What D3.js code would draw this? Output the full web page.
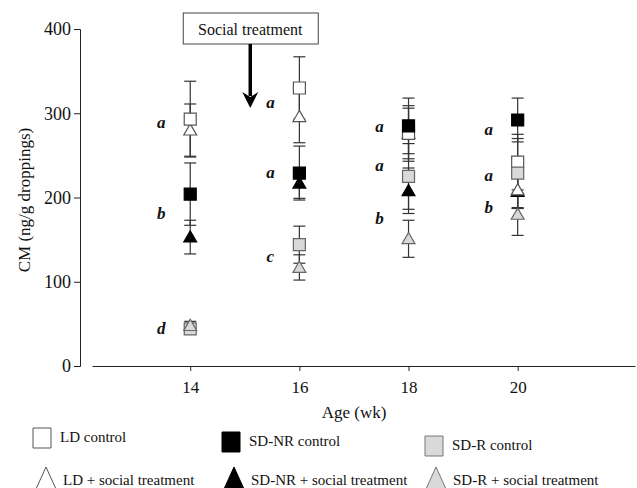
<!DOCTYPE html>
<html>
<head>
<meta charset="utf-8">
<script src="https://cdn.jsdelivr.net/npm/d3@7"></script>
<style>
  body { margin: 0; background: #fff; }
  text { font-family: "Liberation Serif", "Times New Roman", serif; fill: #111; }
</style>
</head>
<body>
<script>
'use strict'

var w = 637;
var h = 488;

// ages (wk)
var weeks = [14, 16, 18, 20];

// group means and SEM, ng/g droppings
var ldControl = [293, 330, 276, 242];
var ldControlErr = [45, 37, 33, 33];
var sdnrControl = [204, 229, 285, 292];
var sdnrControlErr = [37, 32, 33, 26];
var sdrControl = [44, 144, 225, 229];
var sdrControlErr = [5, 22, 39, 41];
var ldSocial = [280, 296, 276, 209];
var ldSocialErr = [31, 31, 30, 22];
var sdnrSocial = [153, 217, 208, 207];
var sdnrSocialErr = [20, 18, 27, 20];
var sdrSocial = [48, 117, 151, 180];
var sdrSocialErr = [5, 15, 22, 25];

// significance letters
var letterWeeks = [14, 14, 14, 16, 16, 16, 18, 18, 18, 20, 20, 20];
var letterValues = [288, 180, 44, 312, 229, 129, 284, 237, 174, 280, 225, 188];
var letterTexts = ['a', 'b', 'd', 'a', 'a', 'c', 'a', 'a', 'b', 'a', 'a', 'b'];

var yTicks = [0, 100, 200, 300, 400];
var treatmentWeek = 15.1;

var legendLabels = ['LD control', 'SD-NR control', 'SD-R control',
  'LD + social treatment', 'SD-NR + social treatment', 'SD-R + social treatment'];

// drawing order matters: later marks sit on top
var series = [
  {vals: sdnrSocial, err: sdnrSocialErr, shape: 'triangle', fill: '#000', stroke: '#000'},
  {vals: ldSocial, err: ldSocialErr, shape: 'triangle', fill: '#fff', stroke: '#555'},
  {vals: ldControl, err: ldControlErr, shape: 'square', fill: '#fff', stroke: '#555'},
  {vals: sdrControl, err: sdrControlErr, shape: 'square', fill: '#d9d9d9', stroke: '#666'},
  {vals: sdnrControl, err: sdnrControlErr, shape: 'square', fill: '#000', stroke: '#000'},
  {vals: sdrSocial, err: sdrSocialErr, shape: 'triangle', fill: '#d9d9d9', stroke: '#666'}
];

var x = d3.scaleLinear().domain([12.2, 22.15]).range([92, 635]);
var y = d3.scaleLinear().domain([0, 400]).range([366, 29]);

var svg = d3.select('body').append('svg')
  .attr('width', w)
  .attr('height', h);

// y axis
var yAxis = svg.append('g')
  .attr('transform', 'translate(80,0)')
  .call(d3.axisLeft(y).tickValues(yTicks).tickSize(6).tickPadding(3));
yAxis.select('.domain').attr('stroke', '#222');
yAxis.selectAll('line').attr('stroke', '#222');
yAxis.selectAll('text')
  .style('font-family', '"Liberation Serif", serif')
  .style('font-size', '18px')
  .attr('fill', '#111');

// x axis
var xAxis = svg.append('g')
  .attr('transform', 'translate(0,366)')
  .call(d3.axisBottom(x).tickValues(weeks).tickSize(5).tickPadding(10).tickSizeOuter(0));
xAxis.select('.domain').attr('stroke', '#222');
xAxis.selectAll('line').attr('stroke', '#222');
xAxis.selectAll('text')
  .style('font-family', '"Liberation Serif", serif')
  .style('font-size', '17px')
  .attr('fill', '#111');

svg.append('text')
  .attr('transform', 'translate(30,200) rotate(-90)')
  .attr('text-anchor', 'middle')
  .style('font-size', '17px')
  .text('CM (ng/g droppings)');

svg.append('text')
  .attr('x', 354)
  .attr('y', 418)
  .attr('text-anchor', 'middle')
  .style('font-size', '17px')
  .text('Age (wk)');

// error bars
var capW = 6;
series.forEach(function(s) {
  var g = svg.append('g').attr('stroke', '#333').attr('stroke-width', 1.2);
  weeks.forEach(function(wk, i) {
    var cx = x(wk);
    var hi = y(s.vals[i] + s.err[i]);
    var lo = y(s.vals[i] - s.err[i]);
    g.append('line').attr('x1', cx).attr('x2', cx).attr('y1', hi).attr('y2', lo);
    g.append('line').attr('x1', cx - capW).attr('x2', cx + capW).attr('y1', hi).attr('y2', hi);
    g.append('line').attr('x1', cx - capW).attr('x2', cx + capW).attr('y1', lo).attr('y2', lo);
  });
});

function shapePath(shape, size) {
  return d3.symbol().type(shape === 'square' ? d3.symbolSquare : d3.symbolTriangle).size(size)();
}

// markers
series.forEach(function(s) {
  svg.append('g').selectAll('path')
    .data(s.vals)
    .enter()
    .append('path')
    .attr('d', shapePath(s.shape, s.shape === 'square' ? 144 : 72))
    .attr('transform', function(d, i) {
      var dy = s.shape === 'triangle' ? 1.2 : 0;
      return 'translate(' + x(weeks[i]) + ',' + (y(d) + dy) + ')';
    })
    .attr('fill', s.fill)
    .attr('stroke', s.stroke)
    .attr('stroke-width', 1.2);
});

// letters
svg.append('g').selectAll('text')
  .data(letterTexts)
  .enter()
  .append('text')
  .attr('x', function(d, i) { return x(letterWeeks[i]) - 29; })
  .attr('y', function(d, i) { return y(letterValues[i]) + 5; })
  .attr('text-anchor', 'middle')
  .style('font-size', '17px')
  .style('font-style', 'italic')
  .style('font-weight', 'bold')
  .text(function(d) { return d; });

// social treatment annotation
var ax = x(treatmentWeek);
svg.append('rect')
  .attr('x', ax - 67).attr('y', 13)
  .attr('width', 135).attr('height', 31)
  .attr('fill', '#fff').attr('stroke', '#444').attr('stroke-width', 1);
svg.append('text')
  .attr('x', ax).attr('y', 35)
  .attr('text-anchor', 'middle')
  .style('font-size', '16px')
  .text('Social treatment');
svg.append('line')
  .attr('x1', ax).attr('x2', ax).attr('y1', 44).attr('y2', 96)
  .attr('stroke', '#000').attr('stroke-width', 3.5);
svg.append('path')
  .attr('d', 'M' + (ax - 8) + ',92 L' + ax + ',108 L' + (ax + 8) + ',92 L' + ax + ',97 Z')
  .attr('fill', '#000');

// legend
var legendFills = ['#fff', '#000', '#d9d9d9', '#fff', '#000', '#d9d9d9'];
var legendStrokes = ['#555', '#000', '#777', '#555', '#000', '#777'];
var legendX = [42, 231, 434, 46, 234, 436];
var legendY = [438, 442, 446, 478, 478, 478];

var leg = svg.append('g').selectAll('g')
  .data(legendLabels)
  .enter()
  .append('g')
  .attr('transform', function(d, i) { return 'translate(' + legendX[i] + ',' + legendY[i] + ')'; });

leg.append('path')
  .attr('d', function(d, i) {
    if (i < 3) return 'M-9,-10 H9 V10 H-9 Z';
    return 'M0,-11 L10,11 L-10,11 Z';
  })
  .attr('fill', function(d, i) { return legendFills[i]; })
  .attr('stroke', function(d, i) { return legendStrokes[i]; })
  .attr('stroke-width', 1);

leg.append('text')
  .attr('x', function(d, i) { return i < 3 ? 18 : 17; })
  .attr('y', function(d, i) { return i < 3 ? 4 : 7; })
  .style('font-size', '15px')
  .text(function(d) { return d; });
</script>
</body>
</html>
